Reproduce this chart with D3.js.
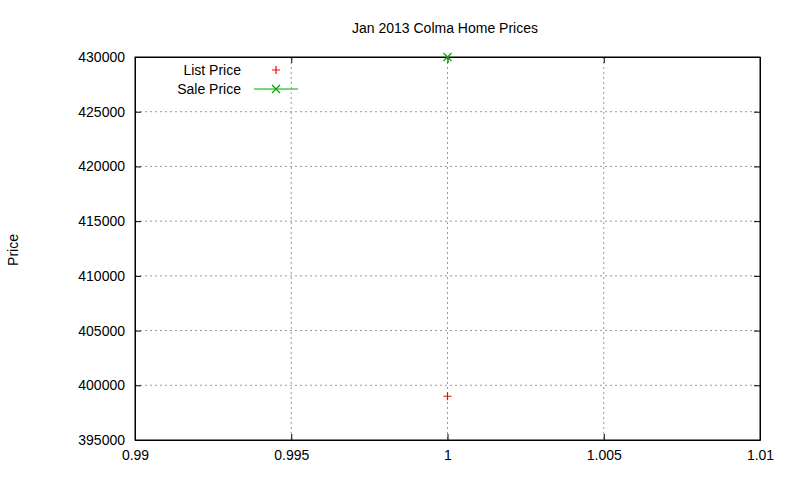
<!DOCTYPE html>
<html><head><meta charset="utf-8">
<script src="https://cdn.jsdelivr.net/npm/d3@7"></script>
<style>body{margin:0;background:#fff}text{font-family:"Liberation Sans",Arial,sans-serif;font-size:14px;fill:#000}</style>
</head><body><svg width="800" height="480"></svg>
<script>
const title = "Jan 2013 Colma Home Prices";
const xTicks = [0.99, 0.995, 1, 1.005, 1.01];
const yTicks = [395000,400000,405000,410000,415000,420000,425000,430000];
const listX = [1], listY = [399000];
const saleX = [1], saleY = [430000];

const svg = d3.select("svg");
const L=135,R=760,T=57,B=440;
const x = d3.scaleLinear().domain([0.99,1.01]).range([L,R]);
const y = d3.scaleLinear().domain([395000,430000]).range([B,T]);
const g = svg.append("g");
g.selectAll(".gx").data(xTicks.slice(1,-1)).join("line").attr("x1",d=>x(d)).attr("x2",d=>x(d)).attr("y1",T).attr("y2",B).attr("stroke","#999").attr("stroke-dasharray","2,3");
g.selectAll(".gy").data(yTicks.slice(1,-1)).join("line").attr("x1",L).attr("x2",R).attr("y1",d=>y(d)).attr("y2",d=>y(d)).attr("stroke","#999").attr("stroke-dasharray","2,3");
const ax = d3.axisBottom(x).tickValues(xTicks).tickFormat(d=>String(+d.toFixed(3))).tickSizeInner(-6).tickSizeOuter(0).tickPadding(10);
const ay = d3.axisLeft(y).tickValues(yTicks).tickFormat(d=>d).tickSizeInner(-6).tickSizeOuter(0).tickPadding(10);
svg.append("g").attr("transform",`translate(0,${B})`).call(ax);
svg.append("g").attr("transform",`translate(${L},0)`).call(ay);
svg.append("g").attr("transform",`translate(0,${T})`).call(d3.axisTop(x).tickValues(xTicks).tickFormat("").tickSizeInner(-6).tickSizeOuter(0));
svg.append("g").attr("transform",`translate(${R},0)`).call(d3.axisRight(y).tickValues(yTicks).tickFormat("").tickSizeInner(-6).tickSizeOuter(0));
svg.selectAll(".domain").attr("stroke","#000");
svg.selectAll(".tick line").attr("stroke","#000");
svg.selectAll(".tick text").style("font-size","14px").style("font-family","Liberation Sans, Arial, sans-serif").attr("fill","#000");
svg.append("rect").attr("x",L).attr("y",T).attr("width",R-L).attr("height",B-T).attr("fill","none").attr("stroke","#000");
svg.append("text").attr("x",445).attr("y",33).attr("text-anchor","middle").text(title);
svg.append("text").attr("transform","translate(18,250) rotate(-90)").attr("text-anchor","middle").text("Price");
function plus(sel,cx,cy,c){sel.append("path").attr("d",`M${cx-4},${cy}H${cx+4}M${cx},${cy-4}V${cy+4}`).attr("stroke",c).attr("stroke-width",1.2);}
function cross(sel,cx,cy,c){sel.append("path").attr("d",`M${cx-4},${cy-4}L${cx+4},${cy+4}M${cx-4},${cy+4}L${cx+4},${cy-4}`).attr("stroke",c).attr("stroke-width",1.2);}
listX.forEach((d,i)=>plus(svg,x(d),y(listY[i]),"#f00"));
saleX.forEach((d,i)=>cross(svg,x(d),y(saleY[i]),"#0a0"));
svg.append("text").attr("x",241).attr("y",75).attr("text-anchor","end").text("List Price");
svg.append("text").attr("x",241).attr("y",94).attr("text-anchor","end").text("Sale Price");
plus(svg,276,70,"#f00");
svg.append("line").attr("x1",254).attr("x2",298).attr("y1",89).attr("y2",89).attr("stroke","#0a0");
cross(svg,276,89,"#0a0");
</script></body></html>
